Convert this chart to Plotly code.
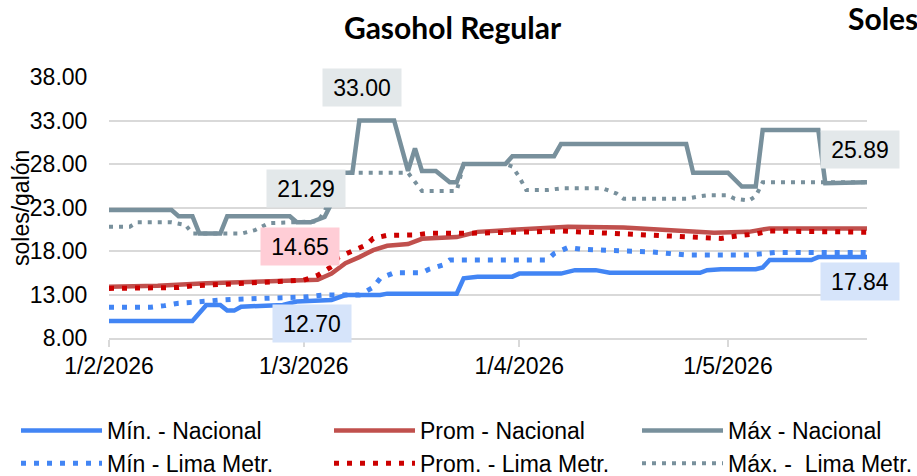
import datetime as dt
import plotly.graph_objects as go

START = dt.date(2026, 2, 1)

def d(n):
    return (START + dt.timedelta(days=n)).isoformat()

# ---- data: (day offset from 1/2/2026, soles/galón) ----
min_nac_days = [0, 12, 14, 16, 17, 18, 19, 21, 25, 27, 30, 32, 34, 39, 40, 50, 51, 53, 58, 59, 65, 67, 70, 72, 85, 86, 88, 93, 94, 95, 101, 102, 109]
min_nac_vals = [9.95, 9.95, 11.8, 11.8, 11.15, 11.15, 11.6, 11.7, 11.8, 12.2, 12.37, 12.37, 12.94, 12.94, 13.1, 13.1, 14.86, 15.05, 15.05, 15.4, 15.4, 15.8, 15.8, 15.5, 15.5, 15.8, 15.9, 15.9, 16.1, 16.97, 16.97, 17.3, 17.3]

prom_nac_days = [0, 7, 14, 21, 28, 30, 32, 34, 36, 38, 40, 43, 45, 50, 53, 59, 66, 74, 83, 87, 92, 95, 109]
prom_nac_vals = [13.9, 14.0, 14.3, 14.45, 14.6, 14.7, 15.4, 16.6, 17.3, 18.1, 18.6, 18.8, 19.4, 19.6, 20.2, 20.5, 20.8, 20.7, 20.2, 20.1, 20.2, 20.6, 20.6]

max_nac_days = [0, 9, 10, 12, 13, 16, 17, 26, 27, 29, 31, 32, 33, 35, 36, 41, 43, 44, 45, 47, 49, 50, 51, 57, 58, 64, 65, 83, 84, 89, 91, 93, 94, 102, 103, 109]
max_nac_vals = [22.7, 22.7, 22.0, 22.0, 20.0, 20.0, 22.0, 22.0, 21.3, 21.3, 21.9, 23.5, 27.0, 27.0, 33.0, 33.0, 27.2, 29.8, 27.2, 27.2, 25.9, 25.9, 28.0, 28.0, 28.9, 28.9, 30.3, 30.3, 27.0, 27.0, 25.4, 25.4, 31.9, 31.9, 25.8, 25.89]

min_lima_days = [0, 6, 8, 10, 12, 14, 16, 18, 21, 23, 26, 28, 31, 36, 38, 39, 41, 45, 46, 48, 49, 63, 64, 66, 68, 70, 74, 78, 81, 83, 92, 94, 96, 109]
min_lima_vals = [11.53, 11.53, 11.72, 12.0, 12.1, 12.3, 12.37, 12.45, 12.5, 12.6, 12.64, 12.70, 12.94, 12.94, 13.83, 14.86, 15.5, 15.5, 15.9, 16.4, 16.97, 16.97, 17.7, 18.4, 18.2, 18.1, 18.0, 17.9, 17.6, 17.54, 17.54, 17.7, 17.84, 17.84]

prom_lima_days = [0, 8, 10, 12, 14, 16, 18, 20, 22, 28, 30, 32, 33, 35, 37, 38, 40, 44, 46, 51, 59, 61, 65, 68, 72, 74, 78, 82, 86, 88, 91, 93, 95, 101, 103, 109]
prom_lima_vals = [13.7, 13.7, 13.8, 14.0, 14.1, 14.2, 14.3, 14.35, 14.4, 14.65, 15.2, 16.2, 17.3, 18.0, 18.7, 19.45, 19.8, 19.84, 20.03, 20.03, 20.1, 20.2, 20.3, 20.2, 20.1, 20.0, 19.84, 19.65, 19.6, 19.45, 19.8, 19.95, 20.3, 20.3, 20.16, 20.16]

max_lima_days = [0, 3, 4, 9, 11, 12, 19, 21, 23, 28, 30, 31, 33, 43, 44, 45, 50, 51, 57, 58, 59, 60, 63, 65, 71, 73, 74, 83, 85, 86, 89, 90, 92, 93, 94, 109]
max_lima_vals = [20.8, 20.8, 21.3, 21.3, 21.0, 20.0, 20.0, 20.4, 21.2, 21.29, 21.4, 22.5, 27.0, 27.0, 25.9, 24.9, 24.9, 28.0, 28.0, 27.7, 26.5, 25.0, 25.0, 25.2, 25.2, 24.6, 24.0, 24.0, 24.3, 24.4, 24.4, 24.0, 23.8, 24.3, 25.9, 25.89]

series_names = ["Mín. - Nacional", "Prom - Nacional", "Máx - Nacional",
                "Mín - Lima Metr.", "Prom. - Lima Metr.", "Máx. -  Lima Metr."]

label_texts = ["33.00", "21.29", "14.65", "12.70", "25.89", "20.16", "17.84"]

tick_dates = [0, 28, 59, 89]
tick_texts = ["1/2/2026", "1/3/2026", "1/4/2026", "1/5/2026"]
y_ticks = [8, 13, 18, 23, 28, 33, 38]

# ---- styles ----
BLUE = "#4285F4"
RED_S = "#C0504D"
RED_D = "#CC0000"
GREY = "#78909C"
FONT = "Liberation Sans, Arial, sans-serif"

PLOT_L, PLOT_R, PLOT_T, PLOT_B = 109, 867, 77, 338
PW, PH = PLOT_R - PLOT_L, PLOT_B - PLOT_T

series = [
    (min_nac_days, min_nac_vals, BLUE, "solid", 4.5, "legend"),
    (prom_nac_days, prom_nac_vals, RED_S, "solid", 4.5, "legend2"),
    (max_nac_days, max_nac_vals, GREY, "solid", 4.5, "legend3"),
    (min_lima_days, min_lima_vals, BLUE, "5px,8px", 5, "legend"),
    (prom_lima_days, prom_lima_vals, RED_D, "5px,8px", 5, "legend2"),
    (max_lima_days, max_lima_vals, GREY, "4px,6px", 4, "legend3"),
]

fig = go.Figure()
for name, (days, vals, col, dash, w, lg) in zip(series_names, series):
    fig.add_trace(go.Scatter(
        x=[d(n) for n in days], y=vals, name=name, mode="lines",
        line=dict(color=col, width=w, dash=dash), legend=lg,
    ))

# data label boxes: (day, y, bg)
label_pos = [(36.4, 36.85, "#E3E8EA"), (28.3, 25.13, "#E3E8EA"), (27.5, 18.57, "#FFCDD6"),
             (29.2, 9.61, "#D6E4FA"), (108.0, 29.72, "#E3E8EA"), (110.0, 22.37, "#FFCDD6"),
             (108.0, 14.55, "#D6E4FA")]
for txt, (dx, yv, bg) in zip(label_texts, label_pos):
    x = (dt.datetime(2026, 2, 1) + dt.timedelta(days=dx)).isoformat()
    fig.add_annotation(x=x, y=yv, xref="x", yref="y", text=txt, showarrow=False,
                       bgcolor=bg, width=76, height=35, align="center",
                       font=dict(family=FONT, size=23, color="#000"))

fig.add_annotation(xref="paper", yref="paper", x=0, xshift=21 - PLOT_L, xanchor="center",
                   y=(PLOT_B - 208) / PH, yanchor="middle",
                   text="soles/galón", textangle=-90, showarrow=False,
                   font=dict(family=FONT, size=23, color="#000"))

fig.add_annotation(xref="paper", yref="paper", x=(846 - PLOT_L) / PW, y=(PLOT_B - 18) / PH,
                   xanchor="left", yanchor="middle", text="<b>Soles</b>", showarrow=False,
                   font=dict(family="Lato", size=30, color="#000"))

def legend_at(px_left):
    return dict(orientation="v", x=(px_left - 6 - PLOT_L) / PW, xanchor="left",
                y=(PLOT_B - 409) / PH, yanchor="top", itemwidth=81,
                font=dict(family=FONT, size=23, color="#000"),
                bgcolor="rgba(0,0,0,0)", tracegroupgap=0)

fig.update_layout(
    width=917, height=476,
    margin=dict(l=PLOT_L, r=917 - PLOT_R, t=PLOT_T, b=476 - PLOT_B, autoexpand=False),
    paper_bgcolor="white", plot_bgcolor="white",
    title=dict(text="<b>Gasohol Regular</b>", x=452.5 / 917, xanchor="center",
               y=1 - 28 / 476, yanchor="middle",
               font=dict(family="Lato", size=30, color="#000")),
    showlegend=True,
    legend=legend_at(22),
    legend2=legend_at(335),
    legend3=legend_at(643),
    xaxis=dict(type="date", range=[d(0), d(109)],
               tickvals=[d(n) for n in tick_dates], ticktext=tick_texts,
               showgrid=False, showline=True, linecolor="#D9D9D9", linewidth=1.5,
               ticks="outside", ticklen=7, tickwidth=1.5, tickcolor="#D9D9D9",
               tickfont=dict(family=FONT, size=23, color="#000"), zeroline=False),
    yaxis=dict(range=[8, 38], tickvals=y_ticks, tickformat=".2f",
               showgrid=True, gridcolor="#D9D9D9", gridwidth=1.5, zeroline=False,
               ticks="outside", ticklen=16, tickcolor="rgba(0,0,0,0)",
               tickfont=dict(family=FONT, size=23, color="#000")),
)

fig.write_html("out.html", config={"displayModeBar": False},
               post_script="document.body.style.margin='0';")
